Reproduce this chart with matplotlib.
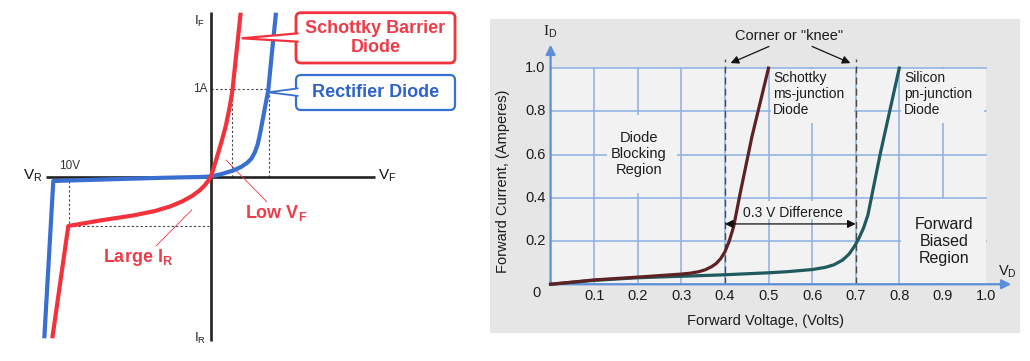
import matplotlib
matplotlib.use("Agg")
import matplotlib.pyplot as plt
from matplotlib.patches import FancyBboxPatch, Polygon, Rectangle

plt.rcParams['font.family'] = ['Liberation Sans', 'DejaVu Sans']
plt.rcParams['mathtext.fontset'] = 'custom'
plt.rcParams['mathtext.rm'] = 'Liberation Sans'
plt.rcParams['mathtext.bf'] = 'Liberation Sans:bold'
plt.rcParams['mathtext.sf'] = 'Liberation Sans'

# ---------------- Left panel data (schematic units) ----------------
schottky_left_v = [-158.7, -142.7, -111, -78, -56, -41, -29, -19, -11.5, -6, -2.5, 0, 2, 4.5,
                   7.5, 11, 15, 18.5, 21.5, 25.5, 29.7]
schottky_left_i = [-161.3, -49, -43.5, -38.5, -34, -29.5, -24.5, -19, -13.5, -8, -3.5, 1, 7, 15,
                   25, 37, 52, 69, 87, 125, 164.3]
rectifier_left_v = [-166.7, -157.7, -91, -44.3, -11, 0, 10.7, 22.3, 30, 36, 40.5, 44, 46.5, 49,
                    52, 55, 57.3, 61, 65]
rectifier_left_i = [-161.3, -4, -2, -0.7, 0, 0.5, 3, 6.5, 10, 14, 18.5, 25, 32, 43,
                    59, 75, 87, 125, 164.3]
level_1A = 88
vf_schottky_1A = 21
vf_rectifier_1A = 58
vr_10V = -142
ir_schottky_10V = -49

# ---------------- Right panel data ----------------
schottky_v = [0, 0.1, 0.2, 0.3, 0.32, 0.34, 0.355, 0.37, 0.38, 0.39, 0.4, 0.41, 0.42, 0.435, 0.462, 0.5]
schottky_i = [0, 0.02, 0.033, 0.047, 0.051, 0.058, 0.067, 0.082, 0.096, 0.118, 0.15, 0.2, 0.267,
              0.421, 0.683, 1.0]
silicon_v = [0, 0.1, 0.2, 0.3, 0.389, 0.5, 0.542, 0.6, 0.63, 0.65, 0.67, 0.685, 0.697, 0.708,
             0.718, 0.728, 0.756, 0.8]
silicon_i = [0, 0.018, 0.03, 0.037, 0.043, 0.053, 0.058, 0.068, 0.078, 0.09, 0.112, 0.14, 0.175,
             0.215, 0.26, 0.32, 0.6, 1.0]
x_ticks = [0.1, 0.2, 0.3, 0.4, 0.5, 0.6, 0.7, 0.8, 0.9, 1.0]
x_tick_labels = ['0.1', '0.2', '0.3', '0.4', '0.5', '0.6', '0.7', '0.8', '0.9', '1.0']
y_ticks = [0.2, 0.4, 0.6, 0.8, 1.0]
y_tick_labels = ['0.2', '0.4', '0.6', '0.8', '1.0']
knee_schottky = 0.4
knee_silicon = 0.7

RED = '#f2333e'
RED_TXT = '#ee3d48'
BLUE = '#3a6fd2'
BLUE_TXT = '#2f63c9'

fig = plt.figure(figsize=(10.30, 3.61), dpi=100)

# ================= LEFT PANEL =================
axL = fig.add_axes([0, 0, 480 / 1030, 1])
axL.set_xlim(-211, 269)
axL.set_ylim(-184, 177)
axL.axis('off')

# axes lines
axL.plot([0, 0], [-164, 165], color='#222222', lw=1.9, zorder=2, solid_capstyle='butt')
axL.plot([-165, 164], [0, 0], color='#222222', lw=1.9, zorder=2, solid_capstyle='butt')

# dotted guides
dkw = dict(color='#444444', lw=0.8, ls=(0, (2, 2)), zorder=1)
axL.plot([0, vf_rectifier_1A], [level_1A, level_1A], **dkw)
axL.plot([vf_schottky_1A, vf_schottky_1A], [0, level_1A], **dkw)
axL.plot([vf_rectifier_1A, vf_rectifier_1A], [0, level_1A], **dkw)
axL.plot([vr_10V, vr_10V], [-4, ir_schottky_10V], **dkw)
axL.plot([vr_10V, 0], [ir_schottky_10V, ir_schottky_10V], **dkw)

# curves
axL.plot(rectifier_left_v, rectifier_left_i, color=BLUE, lw=3.0, zorder=3,
         solid_joinstyle='round', solid_capstyle='butt')
axL.plot(schottky_left_v, schottky_left_i, color=RED, lw=3.0, zorder=4,
         solid_joinstyle='round', solid_capstyle='butt')

# axis labels
axL.text(-11, 156, r'I$_\mathrm{F}$', fontsize=9.5, ha='center', va='center', color='#222222')
axL.text(-11, -161, r'I$_\mathrm{R}$', fontsize=9.5, ha='center', va='center', color='#222222')
axL.text(-178, 1, r'V$_\mathrm{R}$', fontsize=11, ha='center', va='center', color='#111111')
axL.text(176, 1, r'V$_\mathrm{F}$', fontsize=11, ha='center', va='center', color='#111111')
axL.text(-11, 88, '1A', fontsize=8.5, ha='center', va='center', color='#333333')
axL.text(-141, 11, '10V', fontsize=8.5, ha='center', va='center', color='#333333')

# red leader lines + labels
axL.plot([15, 55.7], [17, -24.7], color=RED, lw=0.6, zorder=2)
axL.plot([-19.3, -55], [-33, -69], color=RED, lw=0.6, zorder=2)
axL.text(65, -36, r'Low V$_\mathbf{F}$', fontsize=13, fontweight='bold', color=RED_TXT,
         ha='center', va='center')
axL.text(-73, -80, r'Large I$_\mathbf{R}$', fontsize=13, fontweight='bold', color=RED_TXT,
         ha='center', va='center')

# callout boxes
box1 = FancyBboxPatch((85, 114), 159, 50.3, boxstyle='round,pad=0,rounding_size=5',
                      fc='white', ec=RED, lw=2.0, zorder=5)
axL.add_patch(box1)
axL.add_patch(Polygon([(87.5, 143.7), (30.7, 138.7), (87.5, 135.3)], closed=False,
                      fc='white', ec=RED, lw=1.6, zorder=6))
axL.text(164.5, 139, 'Schottky Barrier\nDiode', fontsize=13, fontweight='bold', color=RED_TXT,
         ha='center', va='center', linespacing=1.2, zorder=7)

box2 = FancyBboxPatch((85, 67), 159, 35, boxstyle='round,pad=0,rounding_size=5',
                      fc='white', ec=BLUE, lw=1.6, zorder=5)
axL.add_patch(box2)
axL.add_patch(Polygon([(87.5, 88.7), (57.3, 84.7), (87.5, 81)], closed=False,
                      fc='white', ec=BLUE, lw=1.3, zorder=6))
axL.text(164.5, 84.5, 'Rectifier Diode', fontsize=13, fontweight='bold', color=BLUE_TXT,
         ha='center', va='center', zorder=7)

# ================= RIGHT PANEL =================
axR = fig.add_axes([490 / 1030, 28 / 361, 530 / 1030, 314 / 361])
axR.set_xlim(-0.139, 1.077)
axR.set_ylim(-0.2255, 1.227)
for s in axR.spines.values():
    s.set_visible(False)
axR.set_xticks([])
axR.set_yticks([])
axR.set_facecolor('#e6e6e6')

BG = '#f2f2f2'
GRID = '#8fb3e3'
TXT = '#1c1c1c'
axR.add_patch(Rectangle((0, 0), 1.0, 1.0, fc=BG, ec='none', zorder=0.5))

for v in x_ticks[:-1]:
    axR.plot([v, v], [0, 1.0], color=GRID, lw=1.15, zorder=1)
for h in y_ticks:
    axR.plot([0, 1.0], [h, h], color=GRID, lw=1.15, zorder=1)

# background behind text labels (hides grid)
for (x0, y0, x1, y1) in [(0.13, 0.42, 0.29, 0.785),
                         (0.505, 0.748, 0.695, 0.995),
                         (0.805, 0.748, 0.995, 0.995),
                         (0.805, 0.005, 0.998, 0.395),
                         (0.445, 0.30, 0.67, 0.385)]:
    axR.add_patch(Rectangle((x0, y0), x1 - x0, y1 - y0, fc=BG, ec='none', zorder=1.5))

# knee dashed lines
for k in (knee_schottky, knee_silicon):
    axR.plot([k, k], [0, 1.04], color='#4a4a4a', lw=1.0, ls=(0, (5, 3)), zorder=2)

# axes arrows
AX = '#5b8ed6'
axR.annotate('', xy=(1.057, 0), xytext=(-0.002, 0),
             arrowprops=dict(arrowstyle='-|>', color=AX, lw=1.6, mutation_scale=14,
                             shrinkA=0, shrinkB=0), zorder=3)
axR.annotate('', xy=(0, 1.108), xytext=(0, -0.004),
             arrowprops=dict(arrowstyle='-|>', color=AX, lw=1.6, mutation_scale=14,
                             shrinkA=0, shrinkB=0), zorder=3)

# curves
axR.plot(silicon_v, silicon_i, color='#1f5a5f', lw=2.3, zorder=4, solid_joinstyle='round')
axR.plot(schottky_v, schottky_i, color='#5e2222', lw=2.3, zorder=5, solid_joinstyle='round')

# tick labels
for v, lab in zip(x_ticks, x_tick_labels):
    axR.text(v, -0.054, lab, fontsize=10.5, ha='center', va='center', color=TXT)
for h, lab in zip(y_ticks, y_tick_labels):
    axR.text(-0.012, h, lab, fontsize=10.5, ha='right', va='center', color=TXT)
axR.text(-0.032, -0.039, '0', fontsize=10.5, ha='center', va='center', color=TXT)

# axis titles
axR.text(0.494, -0.168, 'Forward Voltage, (Volts)', fontsize=10.5, ha='center', va='center', color=TXT)
axR.text(-0.11, 0.475, 'Forward Current, (Amperes)', fontsize=10.5, ha='center', va='center',
         rotation=90, color=TXT)
axR.text(0.0, 1.17, r'I$_\mathsf{D}$', fontsize=11, ha='center', va='center', color=TXT,
         family='Liberation Serif')
axR.text(1.049, 0.059, r'V$_\mathrm{D}$', fontsize=10.5, ha='center', va='center', color=TXT)

# annotations
axR.text(0.548, 1.147, 'Corner or "knee"', fontsize=10.5, ha='center', va='center', color=TXT)
akw = dict(arrowstyle='-|>', color='#111111', lw=0.9, mutation_scale=12, shrinkA=0, shrinkB=0)
axR.annotate('', xy=(0.413, 1.023), xytext=(0.501, 1.100), arrowprops=akw)
axR.annotate('', xy=(0.688, 1.023), xytext=(0.600, 1.100), arrowprops=akw)

axR.annotate('', xy=(knee_schottky, 0.279), xytext=(knee_silicon, 0.279),
             arrowprops=dict(arrowstyle='<|-|>', color='#111111', lw=0.9, mutation_scale=12,
                             shrinkA=0, shrinkB=0), zorder=6)
axR.text(0.555, 0.33, '0.3 V Difference', fontsize=10, ha='center', va='center', color=TXT, zorder=6)

axR.text(0.511, 0.985, 'Schottky\nms-junction\nDiode', fontsize=10, ha='left', va='top',
         color=TXT, linespacing=1.15, zorder=6)
axR.text(0.811, 0.985, 'Silicon\npn-junction\nDiode', fontsize=10, ha='left', va='top',
         color=TXT, linespacing=1.15, zorder=6)
axR.text(0.203, 0.603, 'Diode\nBlocking\nRegion', fontsize=10.5, ha='center', va='center',
         color=TXT, linespacing=1.15, zorder=6)
axR.text(0.902, 0.198, 'Forward\nBiased\nRegion', fontsize=11.5, ha='center', va='center',
         color=TXT, linespacing=1.15, zorder=6)

fig.savefig('out.png', dpi=100)
